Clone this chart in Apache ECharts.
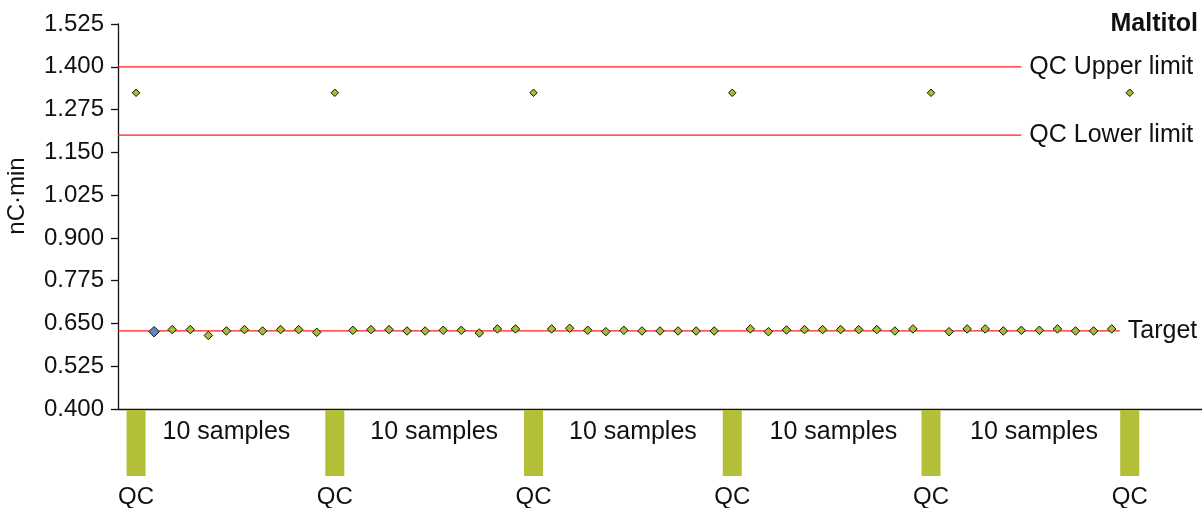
<!DOCTYPE html>
<html><head><meta charset="utf-8">
<script src="https://cdn.jsdelivr.net/npm/echarts@6/dist/echarts.min.js"></script>
<style>html,body{margin:0;padding:0;background:#fff}#c{width:1202px;height:508px}</style>
</head><body><div id="c"></div><script>
// ---- data ----
const qcIndex = [0, 11, 22, 33, 44, 55];
const qcValues = [1.324, 1.324, 1.324, 1.324, 1.324, 1.324];
const group1 = [0.626, 0.632, 0.632, 0.615, 0.628, 0.632, 0.628, 0.632, 0.632, 0.624];
const group2 = [0.630, 0.632, 0.632, 0.628, 0.628, 0.630, 0.630, 0.622, 0.634, 0.634];
const group3 = [0.634, 0.636, 0.630, 0.626, 0.630, 0.628, 0.628, 0.628, 0.628, 0.628];
const group4 = [0.634, 0.626, 0.631, 0.632, 0.632, 0.632, 0.632, 0.632, 0.628, 0.634];
const group5 = [0.626, 0.634, 0.634, 0.628, 0.630, 0.630, 0.634, 0.628, 0.628, 0.634];
const sampleGroups = [group1, group2, group3, group4, group5];
const refLines = [
  {name: 'QC Upper limit', value: 1.4, end: 49.0},
  {name: 'QC Lower limit', value: 1.2, end: 49.0},
  {name: 'Target', value: 0.628, end: 54.45}
];
const yMin = 0.4, yMax = 1.525, yStep = 0.125;
const xMin = -1, xMax = 59;
const sampleLabelX = [5.0, 16.5, 27.5, 38.6, 49.7];
const sampleLabelText = '10 samples';
const qcLabelText = 'QC';

// ---- build ----
const FONT = '"Liberation Sans", Arial, Helvetica, sans-serif';
const sh = v => +(v - yMin).toFixed(6);
const pts = [];
sampleGroups.forEach((g, gi) => g.forEach((v, si) => pts.push([qcIndex[gi] + 1 + si, sh(v)])));
const bluePts = [pts[0]];
const greenPts = pts.slice(1);
const qcPts = qcIndex.map((x, i) => [x, sh(qcValues[i])]);
const GREEN = '#abb934', BORDER = '#111', RED = '#ff1c1c', TXT = '#111';

const lineSeries = refLines.map(r => ({
  type: 'line', name: r.name, z: 1, silent: true, symbol: 'none',
  data: [[xMin, sh(r.value)], [r.end, sh(r.value)]],
  lineStyle: {color: RED, width: 1.2, opacity: 1},
  itemStyle: {color: RED},
  emphasis: {disabled: true},
  endLabel: {show: true, distance: 8, formatter: r.name, fontSize: 25, color: TXT, fontFamily: FONT}
}));

const chart = echarts.init(document.getElementById('c'), null, {renderer: 'canvas'});
chart.setOption({
  animation: false,
  backgroundColor: '#fff',
  title: {text: 'Maltitol', right: 4, top: 12, padding: 0,
    textStyle: {fontWeight: 'bold', fontSize: 25, color: TXT, fontFamily: FONT}},
  graphic: [{type: 'text', x: 17.5, y: 196, rotation: Math.PI / 2,
    style: {text: 'nC·min', fontSize: 24, fontFamily: FONT, fill: TXT,
      align: 'center', verticalAlign: 'middle'}}],
  grid: [
    {left: 118, right: 0, top: 24, height: 385},
    {left: 118, right: 0, top: 410, height: 66}
  ],
  xAxis: [
    {type: 'value', gridIndex: 0, min: xMin, max: xMax, splitLine: {show: false},
      axisTick: {show: false}, axisLabel: {show: false},
      axisLine: {show: true, onZero: false, lineStyle: {color: '#111', width: 1.3}}},
    {type: 'value', gridIndex: 1, min: xMin, max: xMax, show: false}
  ],
  yAxis: [
    {type: 'value', gridIndex: 0, min: 0, max: sh(yMax), interval: yStep,
      splitLine: {show: false},
      axisLine: {show: true, onZero: false, lineStyle: {color: '#111', width: 1.3}},
      axisTick: {show: true, length: 7, lineStyle: {color: '#111', width: 1.3}},
      axisLabel: {margin: 14, fontSize: 24, color: TXT, fontFamily: FONT,
        formatter: v => (v + yMin).toFixed(3)}},
    {type: 'value', gridIndex: 1, min: 0, max: 1, show: false}
  ],
  series: lineSeries.concat([
    {type: 'scatter', z: 3, symbol: 'diamond', symbolSize: 8.5, data: greenPts,
      itemStyle: {color: GREEN, borderColor: BORDER, borderWidth: 1, opacity: 1}},
    {type: 'scatter', z: 3, symbol: 'diamond', symbolSize: 10.5, data: bluePts,
      itemStyle: {color: '#5a8ac0', borderColor: BORDER, borderWidth: 1, opacity: 1}},
    {type: 'scatter', z: 3, symbol: 'diamond', symbolSize: 7.5, data: qcPts,
      itemStyle: {color: GREEN, borderColor: BORDER, borderWidth: 1, opacity: 1}},
    {type: 'bar', xAxisIndex: 1, yAxisIndex: 1, barWidth: 19,
      data: qcIndex.map(x => [x, 1]),
      itemStyle: {color: '#b3bf36', opacity: 1},
      label: {show: true, position: 'bottom', distance: 9, formatter: qcLabelText,
        fontSize: 24, color: TXT, fontFamily: FONT}},
    {type: 'scatter', xAxisIndex: 1, yAxisIndex: 1, symbol: 'circle', symbolSize: 1,
      data: sampleLabelX.map(x => [x, 0.67]),
      itemStyle: {color: 'rgba(0,0,0,0)', opacity: 1},
      label: {show: true, position: 'inside', formatter: sampleLabelText, opacity: 1,
        fontSize: 25, color: TXT, fontFamily: FONT}}
  ])
});
</script></body></html>
